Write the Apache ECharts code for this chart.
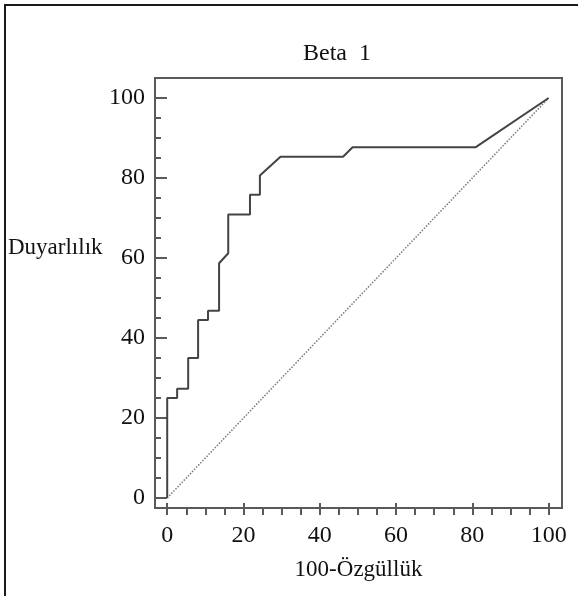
<!DOCTYPE html>
<html>
<head>
<meta charset="utf-8">
<script src="https://cdn.jsdelivr.net/npm/echarts@6/dist/echarts.min.js"></script>
<style>
html, body {margin: 0; padding: 0; background: #fff;}
#chart {width: 578px; height: 596px;}
</style>
</head>
<body>
<div id="chart"></div>
<script>
	// ROC curve
	var rocX = [0, 0, 2.6, 2.6, 5.5, 5.5, 8.1, 8.1, 10.7, 10.7, 13.6, 13.6, 16, 16, 21.7, 21.7, 24.3, 24.3, 29.7, 46.1, 48.6, 80.9, 100];
	var rocY = [0, 25, 25, 27.3, 27.3, 35, 35, 44.5, 44.5, 46.8, 46.8, 58.7, 61.2, 70.9, 70.9, 75.8, 75.8, 80.6, 85.3, 85.3, 87.7, 87.7, 100];
	// reference diagonal
	var diagX = [0, 100];
	var diagY = [0, 100];
	var majorTicks = [0, 20, 40, 60, 80, 100];
	var minorTicks = [0, 5, 10, 15, 20, 25, 30, 35, 40, 45, 50, 55, 60, 65, 70, 75, 80, 85, 90, 95, 100];

	var font = 'Liberation Serif';
	var frameColor = '#5a5a5a';

	function pairs(xs, ys) {
		var out = [];
		for (var i = 0; i < xs.length; i++) {
			out.push([xs[i], ys[i]]);
		}
		return out;
	}

	var myChart = echarts.init(document.getElementById('chart'), null, {renderer: 'canvas'});

	var option = {
		backgroundColor: '#fff',
		animation: false,
		graphic: [{
			type: 'rect',
			shape: {x: 5, y: 5, width: 700, height: 700},
			style: {fill: null, stroke: '#1a1a1a', lineWidth: 2},
			silent: true
		}],
		title: [{
			text: 'Beta  1',
			left: 337,
			top: 42,
			textAlign: 'center',
			padding: 0,
			textStyle: {fontFamily: font, fontSize: 24, fontWeight: 'normal', color: '#111'}
		}, {
			text: 'Duyarlılık',
			left: 8,
			top: 236,
			padding: 0,
			textStyle: {fontFamily: font, fontSize: 23, fontWeight: 'normal', color: '#111'}
		}],
		grid: {
			left: 155,
			right: 16,
			top: 78,
			bottom: 88,
			show: true,
			borderColor: frameColor,
			borderWidth: 2,
			backgroundColor: 'transparent'
		},
		xAxis: [{
			type: 'value',
			position: 'bottom',
			min: -3.2,
			max: 103.5,
			name: '100-Özgüllük',
			nameLocation: 'middle',
			nameGap: 50,
			nameTextStyle: {fontFamily: font, fontSize: 23, color: '#111'},
			axisLine: {show: true, onZero: false, lineStyle: {color: frameColor, width: 2}},
			axisTick: {show: true, inside: false, length: 7, customValues: minorTicks, lineStyle: {color: frameColor, width: 2}},
			axisLabel: {show: true, margin: 16, customValues: majorTicks, fontFamily: font, fontSize: 24, color: '#111'},
			splitLine: {show: false}
		}, {
			type: 'value',
			position: 'bottom',
			min: -3.2,
			max: 103.5,
			axisLine: {show: false, onZero: false},
			axisTick: {show: true, inside: true, length: 5, customValues: majorTicks, lineStyle: {color: frameColor, width: 2}},
			axisLabel: {show: false},
			splitLine: {show: false}
		}],
		yAxis: [{
			type: 'value',
			position: 'left',
			min: -2.5,
			max: 105,
			axisLine: {show: true, onZero: false, lineStyle: {color: frameColor, width: 2}},
			axisTick: {show: true, inside: true, length: 12, customValues: majorTicks, lineStyle: {color: frameColor, width: 2}},
			axisLabel: {show: true, margin: 10, customValues: majorTicks, fontFamily: font, fontSize: 24, color: '#111'},
			splitLine: {show: false}
		}, {
			type: 'value',
			position: 'left',
			min: -2.5,
			max: 105,
			axisLine: {show: false, onZero: false},
			axisTick: {show: true, inside: true, length: 6, customValues: minorTicks, lineStyle: {color: frameColor, width: 2}},
			axisLabel: {show: false},
			splitLine: {show: false}
		}],
		series: [{
			name: 'diagonal',
			type: 'line',
			xAxisIndex: 0,
			yAxisIndex: 0,
			showSymbol: false,
			data: pairs(diagX, diagY),
			lineStyle: {color: '#7a7a7a', width: 1.5, type: [1.5, 1.5]},
			z: 2
		}, {
			name: 'Beta 1',
			type: 'line',
			xAxisIndex: 0,
			yAxisIndex: 0,
			showSymbol: false,
			data: pairs(rocX, rocY),
			lineStyle: {color: '#444', width: 2},
			z: 3
		}]
	};
	myChart.setOption(option);
</script>
</body>
</html>
